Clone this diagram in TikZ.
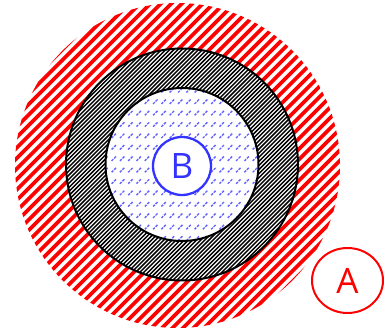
\documentclass[tikz,border=0pt]{standalone}
\usepackage{fontspec}
\setmainfont{Open Sans}
\usetikzlibrary{shapes.geometric}
\definecolor{bblue}{RGB}{51,51,255}
\definecolor{dashblue}{RGB}{100,100,255}
\tikzset{
  redstripe/.style={draw=red, line width=3.6pt},
  blackstripe/.style={draw=black, line width=1.45pt},
  bluedash/.style={draw=dashblue, line width=1.4pt},
  ringedge/.style={draw=black, line width=2pt},
  lbl/.style={font=\fontsize{35}{40}\selectfont, inner sep=0pt},
}
\begin{document}
\begin{tikzpicture}[x=1pt,y=1pt]
\useasboundingbox (0,0) rectangle (387,336);
\coordinate (rc) at (177.5,170.5);
\coordinate (bc) at (182,171.5);
% red hatched disc
\begin{scope}
  \clip (rc) circle[radius=162.5];
  \foreach \c in {-23,...,23}
    \draw[redstripe] (177.5+\c*10.5-170,0.5) -- ++(340,340);
\end{scope}
\fill[white] (bc) circle[radius=116];
% black hatched ring
\begin{scope}
  \clip (bc) circle[radius=116];
  \foreach \c in {-42,...,42}
    \draw[blackstripe] (182+\c*4.1-125,46.5) -- ++(250,250);
\end{scope}
\fill[white] (bc) circle[radius=76.5];
% blue dashes
\begin{scope}
  \clip (bc) circle[radius=76.5];
  \foreach \i in {0,...,19}
    \foreach \j in {0,...,14}
      \draw[bluedash] (102+\i*8.3+1.3,91.5+\j*11.4+3.8) -- ++(1.7,1.7) ++(0.8,0.8) -- ++(1.9,1.9);
\end{scope}
\draw[ringedge] (bc) circle[radius=116];
\draw[ringedge] (bc) circle[radius=76.5];
\node[lbl, circle, draw=bblue, line width=2.3pt, fill=white, text=bblue, minimum size=58pt] (B) at (182,170) {B};
\node[lbl, ellipse, draw=red, line width=2pt, fill=white, text=red, minimum width=71pt, minimum height=65pt] (A) at (347.5,55.5) {A};
\end{tikzpicture}
\end{document}
